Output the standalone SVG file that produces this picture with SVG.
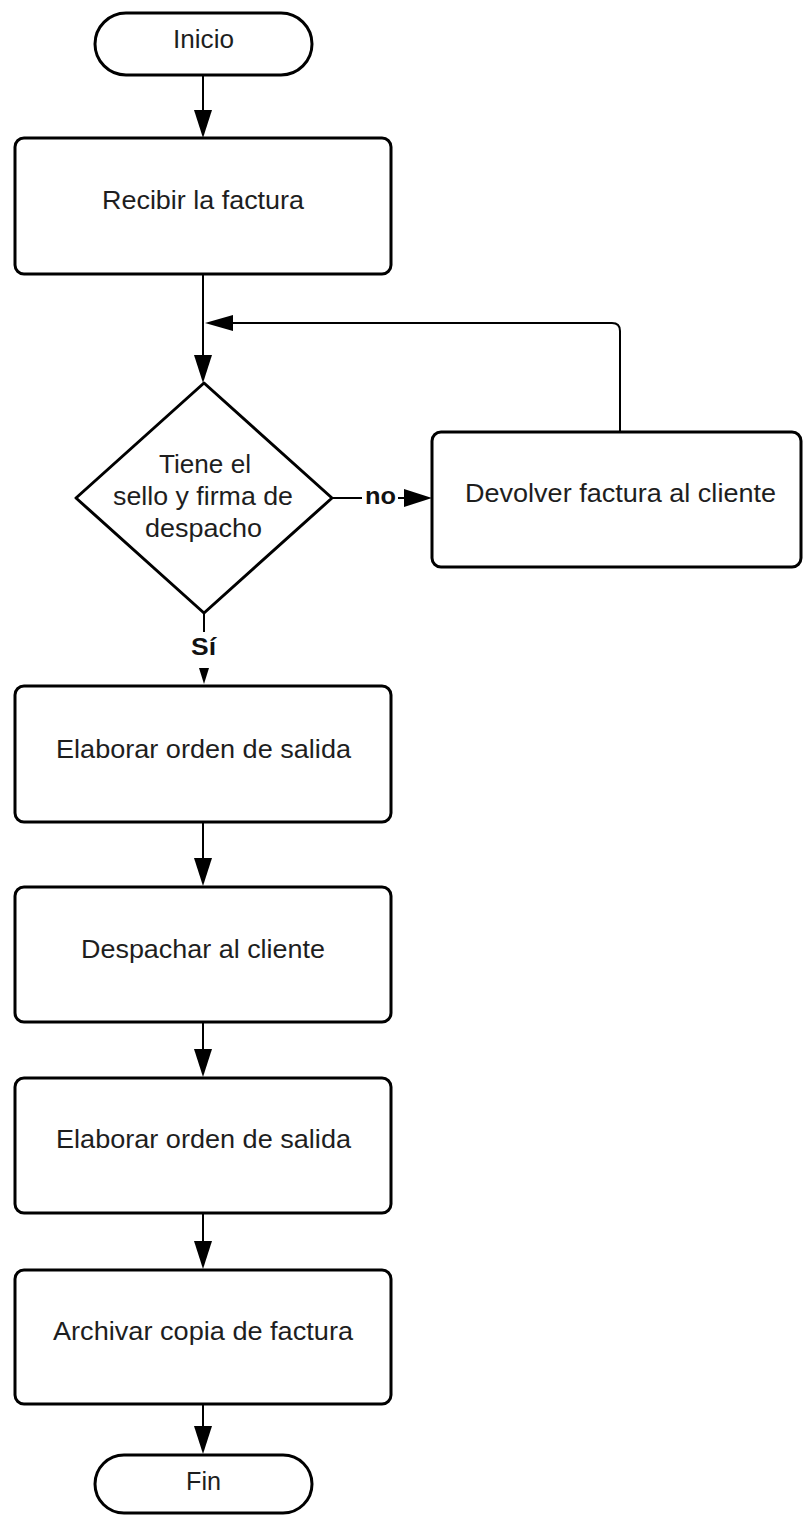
<svg xmlns="http://www.w3.org/2000/svg" width="803" height="1515" viewBox="0 0 803 1515">
  <style>
    .shape { fill: #ffffff; stroke: #000000; stroke-width: 3; stroke-linejoin: round; }
    .lbl { font-family: "Liberation Sans", Arial, sans-serif; font-size: 25px; fill: #1e1e1e; text-anchor: middle; }
    .edge { fill: none; stroke: #000000; stroke-width: 2; }
    .elbl { font-family: "Liberation Sans", Arial, sans-serif; font-size: 24px; font-weight: bold; fill: #111111; text-anchor: middle; }
  </style>
  <defs>
    <marker id="arrow" markerUnits="userSpaceOnUse" markerWidth="28" markerHeight="18" refX="0" refY="9" orient="auto">
      <path d="M0,0 L28,9 L0,18 Z" fill="#000000"/>
    </marker>
    <marker id="arrowLoop" markerUnits="userSpaceOnUse" markerWidth="28" markerHeight="16" refX="0" refY="8" orient="auto">
      <path d="M0,0 L28,8 L0,16 Z" fill="#000000"/>
    </marker>
  </defs>

  <rect width="803" height="1515" fill="#ffffff"/>

  <!-- connectors -->
  <g id="connectors">
    <path class="edge" d="M203,75 V110" marker-end="url(#arrow)"/>
    <path class="edge" d="M203,274 V355" marker-end="url(#arrow)"/>
    <path class="edge" d="M620,432 V331 Q620,323 612,323 H233" marker-end="url(#arrowLoop)"/>
    <path class="edge" d="M332,498 H362"/>
    <text class="elbl" x="380.5" y="504" textLength="31" lengthAdjust="spacingAndGlyphs">no</text>
    <path class="edge" d="M398,498 H404" marker-end="url(#arrow)"/>
    <path class="edge" d="M204,613 V632"/>
    <text class="elbl" x="203.5" y="655" textLength="25" lengthAdjust="spacingAndGlyphs">Sí</text>
    <polygon points="199,668 209,668 204,684" fill="#000000"/>
    <path class="edge" d="M203,822 V858" marker-end="url(#arrow)"/>
    <path class="edge" d="M203,1022 V1049" marker-end="url(#arrow)"/>
    <path class="edge" d="M203,1213 V1241" marker-end="url(#arrow)"/>
    <path class="edge" d="M203,1404 V1426" marker-end="url(#arrow)"/>
  </g>

  <g id="inicio">
    <rect class="shape" x="95" y="13" width="217" height="62" rx="31" ry="31"/>
    <text class="lbl" x="203.5" y="48" textLength="61" lengthAdjust="spacingAndGlyphs">Inicio</text>
  </g>

  <g id="recibir">
    <rect class="shape" x="15" y="138" width="376" height="136" rx="9" ry="9"/>
    <text class="lbl" x="203" y="209" textLength="202" lengthAdjust="spacingAndGlyphs">Recibir la factura</text>
  </g>

  <g id="decision">
    <polygon class="shape" points="204,383 332,498 204,613 76,498"/>
    <text class="lbl" x="205" y="473" textLength="92" lengthAdjust="spacingAndGlyphs">Tiene el</text>
    <text class="lbl" x="203" y="505" textLength="180" lengthAdjust="spacingAndGlyphs">sello y firma de</text>
    <text class="lbl" x="203.5" y="537" textLength="117" lengthAdjust="spacingAndGlyphs">despacho</text>
  </g>

  <g id="devolver">
    <rect class="shape" x="432" y="432" width="369" height="135" rx="9" ry="9"/>
    <text class="lbl" x="620.5" y="502" textLength="311" lengthAdjust="spacingAndGlyphs">Devolver factura al cliente</text>
  </g>

  <g id="elaborar1">
    <rect class="shape" x="15" y="686" width="376" height="136" rx="9" ry="9"/>
    <text class="lbl" x="203.5" y="758" textLength="295" lengthAdjust="spacingAndGlyphs">Elaborar orden de salida</text>
  </g>

  <g id="despachar">
    <rect class="shape" x="15" y="887" width="376" height="135" rx="9" ry="9"/>
    <text class="lbl" x="203" y="958" textLength="244" lengthAdjust="spacingAndGlyphs">Despachar al cliente</text>
  </g>

  <g id="elaborar2">
    <rect class="shape" x="15" y="1078" width="376" height="135" rx="9" ry="9"/>
    <text class="lbl" x="203.5" y="1148" textLength="295" lengthAdjust="spacingAndGlyphs">Elaborar orden de salida</text>
  </g>

  <g id="archivar">
    <rect class="shape" x="15" y="1270" width="376" height="134" rx="9" ry="9"/>
    <text class="lbl" x="203" y="1340" textLength="300" lengthAdjust="spacingAndGlyphs">Archivar copia de factura</text>
  </g>

  <g id="fin">
    <rect class="shape" x="95" y="1455" width="217" height="58" rx="29" ry="29"/>
    <text class="lbl" x="203.5" y="1490" textLength="35" lengthAdjust="spacingAndGlyphs">Fin</text>
  </g>
</svg>
